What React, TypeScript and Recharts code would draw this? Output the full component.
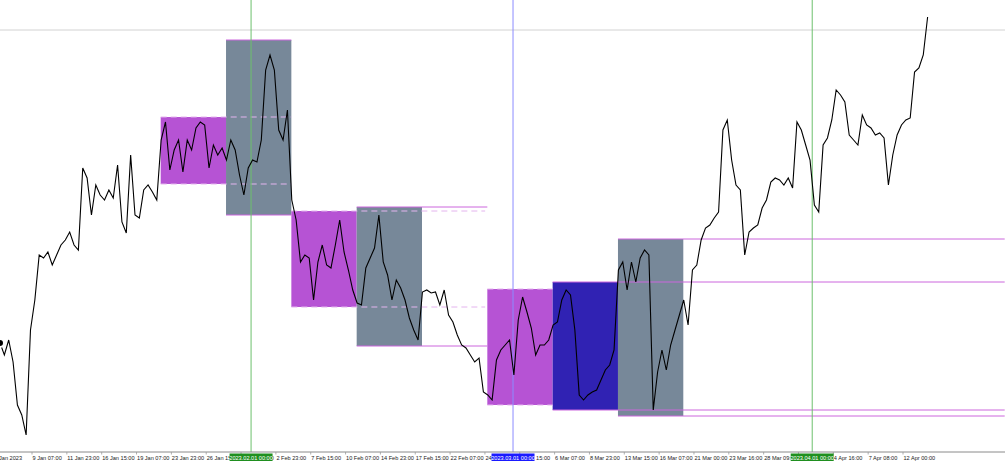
import { ComposedChart, Line, XAxis, YAxis, ReferenceArea, ReferenceLine } from "recharts"

// price samples, one every 8 hourly bars, left edge of the window first
const prices = [
  109, 97, 112, 90, 47, 37, 17, 122, 152, 197,
  194, 200, 187, 197, 207, 212, 220, 207, 202, 284,
  274, 237, 267, 257, 252, 262, 254, 287, 230, 219,
  297, 237, 234, 262, 267, 260, 252, 312, 330, 282,
  302, 312, 280, 312, 302, 324, 330, 327, 284, 307,
  297, 304, 292, 312, 302, 277, 257, 284, 292, 290,
  312, 382, 397, 382, 322, 312, 342, 252, 232, 190,
  197, 194, 152, 190, 207, 187, 184, 207, 232, 200,
  182, 162, 149, 147, 184, 194, 204, 237, 190, 177,
  152, 172, 164, 152, 134, 122, 112, 160, 162, 159,
  160, 147, 162, 137, 130, 117, 107, 104, 97, 90,
  94, 60, 57, 52, 92, 102, 107, 112, 77, 132,
  155, 140, 124, 97, 107, 107, 112, 127, 130, 152,
  162, 157, 122, 57, 52, 57, 60, 62, 72, 82,
  87, 102, 182, 190, 162, 190, 170, 194, 202, 197,
  42, 80, 102, 82, 107, 122, 137, 152, 127, 182,
  187, 212, 224, 227, 234, 240, 322, 332, 292, 267,
  262, 197, 220, 224, 227, 244, 252, 270, 274, 272,
  267, 274, 264, 330, 322, 307, 292, 247, 240, 307,
  314, 332, 362, 357, 350, 317, 312, 307, 337, 327,
  324, 317, 319, 314, 267, 297, 317, 327, 332, 334,
  380, 384, 397, 435,
]

const currentPrice = 422

// weekly range boxes
const zoneFrom = [36.9, 51.9, 66.9, 81.9, 111.9, 126.9, 141.9]
const zoneTo = [51.9, 66.9, 81.9, 96.9, 126.9, 141.9, 156.9]
const zoneHigh = [335, 412, 241, 245, 163, 170, 213]
const zoneLow = [268, 237, 145, 106, 47, 42, 36]
const zoneKind = ["range", "week", "range", "week", "range", "month", "week"]

// levels carried forward from the boxes
const levelPrice = [335, 268, 412, 237, 241, 145, 245, 106, 163, 47, 170, 42, 213, 36]
const levelFrom = [36.9, 36.9, 51.9, 51.9, 66.9, 66.9, 81.9, 81.9, 111.9, 111.9, 126.9, 126.9, 141.9, 141.9]
const levelTo = [66.9, 66.9, 66.9, 66.9, 111.4, 111.4, 111.9, 111.9, 126.9, 126.9, 230.7, 230.7, 230.7, 230.7]
const levelDashed = [true, true, false, false, true, true, false, false, true, true, false, false, false, false]

// period separators
const markerAt = [57.65, 117.8, 186.5]
const markerLabel = ["2023.02.01 00:00", "2023.03.01 00:00", "2023.04.01 00:00"]
const markerKind = ["month", "now", "month"]

const tickAt = [
  0, 7.35, 15.35, 23.35, 31.35, 39.35, 47.35, 55.35, 63.35, 71.35, 79.35, 87.35, 95.35, 103.35,
  111.35, 119.35, 127.35, 135.35, 143.35, 151.35, 159.35, 167.35, 175.35, 183.35, 191.35,
  199.35, 207.35,
]
const tickLabel = [
  "5 Jan 2023", "9 Jan 07:00", "11 Jan 23:00", "16 Jan 15:00", "19 Jan 07:00", "23 Jan 23:00",
  "26 Jan 15:00", "31 Jan 07:00", "2 Feb 23:00", "7 Feb 15:00", "10 Feb 07:00", "14 Feb 23:00",
  "17 Feb 15:00", "22 Feb 07:00", "24 Feb 23:00", "1 Mar 15:00", "6 Mar 07:00", "8 Mar 23:00",
  "13 Mar 15:00", "16 Mar 07:00", "21 Mar 00:00", "23 Mar 16:00", "28 Mar 09:00", "30 Mar 23:00",
  "4 Apr 16:00", "7 Apr 08:00", "12 Apr 00:00",
]

const zoneColor: Record<string, string> = { range: "#b653d4", week: "#778899", month: "#3022b3" }
const markerColor: Record<string, string> = { month: "#6cc06c", now: "#8c8cff" }
const markerBox: Record<string, string> = { month: "#1f8f1f", now: "#1a1aff" }

const data = prices.map((price, i) => ({ i, price }))

const FONT = "'Liberation Sans', Arial, sans-serif"

function AxisTick(props: any) {
  const { x, y, payload } = props
  const m = markerAt.indexOf(payload.value)
  if (m >= 0) {
    return (
      <g>
        <rect x={x - 21.5} y={y + 1.5} width={43} height={7.5} fill={markerBox[markerKind[m]]} />
        <text x={x} y={y + 7.6} fontSize={5.6} fontFamily={FONT} fill="#fff" textAnchor="middle">
          {markerLabel[m]}
        </text>
      </g>
    )
  }
  const t = tickAt.indexOf(payload.value)
  const first = t === 0
  return (
    <g>
      {!first && <line x1={x} y1={y} x2={x} y2={y + 2.5} stroke="#999" strokeWidth={0.8} />}
      <text
        x={first ? x + 22 : x + 0.5}
        y={y + 7.6}
        fontSize={5.6}
        fontFamily={FONT}
        fill="#222"
        textAnchor={first ? "end" : "start"}
      >
        {tickLabel[t]}
      </text>
    </g>
  )
}

export default function App() {
  return (
    <div style={{ position: "absolute", left: 0, top: 0, width: 1005, height: 464, background: "#fff" }}>
      <ComposedChart width={1005} height={464} data={data} margin={{ top: 0, right: 0, bottom: 0, left: 0 }}>
        <XAxis
          dataKey="i"
          type="number"
          domain={[0, 230.77]}
          ticks={[...tickAt, ...markerAt]}
          interval={0}
          tick={<AxisTick />}
          tickLine={false}
          tickSize={0}
          tickMargin={0}
          height={12}
          stroke="#8a8a8a"
          allowDataOverflow
        />
        <YAxis hide type="number" domain={[0, 452]} allowDataOverflow />
        <ReferenceLine y={currentPrice} stroke="#d2d2d2" strokeWidth={1} />
        {zoneFrom.map((x1, k) => (
          <ReferenceArea
            key={"z" + k}
            x1={x1}
            x2={zoneTo[k]}
            y1={zoneLow[k]}
            y2={zoneHigh[k]}
            fill={zoneColor[zoneKind[k]]}
            fillOpacity={1}
            stroke="none"
          />
        ))}
        {levelPrice.map((p, k) => (
          <ReferenceLine
            key={"l" + k}
            segment={[
              { x: levelFrom[k], y: p },
              { x: levelTo[k], y: p },
            ]}
            stroke={levelDashed[k] ? "#e4b4ee" : "#cc66dd"}
            strokeWidth={1}
            strokeDasharray={levelDashed[k] ? "6 4" : undefined}
            ifOverflow="visible"
          />
        ))}
        {markerAt.map((x, k) => (
          <ReferenceLine key={"m" + k} x={x} stroke={markerColor[markerKind[k]]} strokeWidth={1} />
        ))}
        <Line
          type="linear"
          dataKey="price"
          stroke="#000"
          strokeWidth={1.1}
          dot={false}
          isAnimationActive={false}
        />
      </ComposedChart>
    </div>
  )
}
